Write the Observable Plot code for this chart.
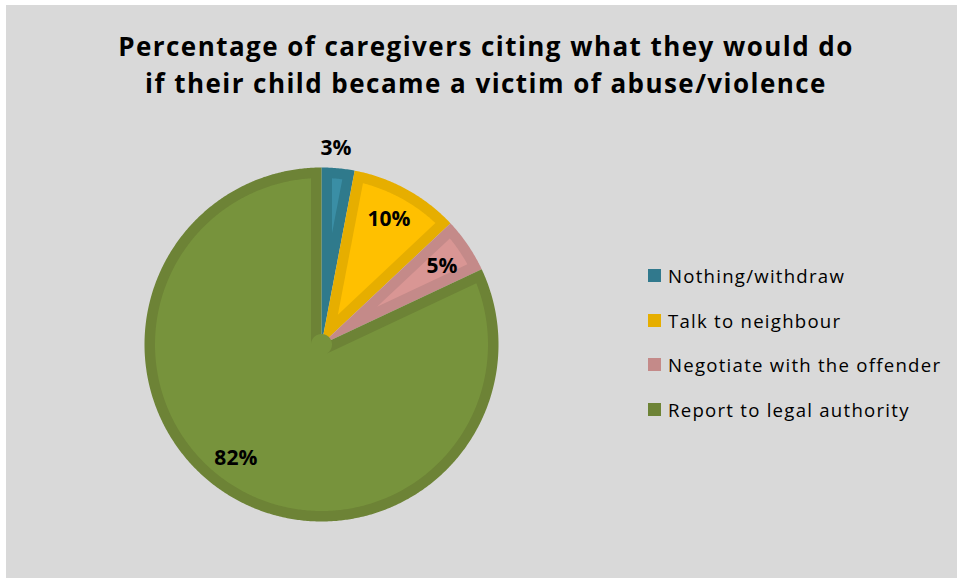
<!DOCTYPE html>
<html>
<head>
<meta charset="utf-8">
<script src="https://cdn.jsdelivr.net/npm/d3@7"></script>
<script src="https://cdn.jsdelivr.net/npm/@observablehq/plot@0.6"></script>
<style>
  html, body { margin: 0; padding: 0; background: #ffffff; }
  #wrap { position: relative; width: 957px; height: 578px; overflow: hidden; font-family: "Open Sans", sans-serif; }
  #bg { position: absolute; left: 6px; top: 5px; width: 951px; height: 573px; background: #d9d9d9; }
  #title { position: absolute; left: 0; width: 972px; top: 27.5px; text-align: center; font-weight: 700; font-size: 26px; line-height: 37px; color: #000; letter-spacing: 1.45px; white-space: nowrap; }
  #chart { position: absolute; left: 0; top: 0; }
  #legend { position: absolute; left: 648px; top: 253px; }
  .item { display: flex; align-items: center; height: 44.7px; font-size: 18.6px; letter-spacing: 1.25px; color: #000; white-space: nowrap; }
  .sw { width: 13px; height: 13px; margin-right: 7px; flex: none; }
</style>
</head>
<body>
<div id="wrap">
  <div id="bg"></div>
  <div id="title">Percentage of caregivers citing what they would do<br>if their child became a victim of abuse/violence</div>
  <div id="chart"></div>
  <div id="legend"></div>
</div>
<script>
// ---- data ----
const categories = ["Nothing/withdraw", "Talk to neighbour", "Negotiate with the offender", "Report to legal authority"];
const values = [3, 10, 5, 82];
const valueLabels = ["3%", "10%", "5%", "82%"];

// ---- styles / layout ----
const innerColors = ["#3a8ea5", "#ffc000", "#d99694", "#77933c"];
const edgeColors  = ["#2f7a8c", "#e6ae00", "#c48a89", "#6d8336"];
const legendColors = ["#31798d", "#e6ae00", "#c48a89", "#6d8336"];
const labelRadius = [1.109, 0.806, 0.813, 0.806];
const labelNudgeDeg = [-1.2, -0.6, 1.1, 4.5];

const W = 957, H = 578;
const cx = 321, cy = 344, R = 177;   // pie placement in pixels (scale ranges)
const inset = 10.5 / R;              // inner border width in data units

const arcs = d3.pie().sort(null).startAngle(0).endAngle(2 * Math.PI)(values);

const pt = (rho, th, key) => ({x: rho * Math.sin(th), y: rho * Math.cos(th), key});
function arcPts(rho, t0, t1, key) {
  const n = Math.max(2, Math.ceil(Math.abs(t1 - t0) / (Math.PI / 360)));
  return d3.range(n + 1).map(i => pt(rho, t0 + (t1 - t0) * i / n, key));
}

const outer = [], inner = [];
arcs.forEach((a, i) => {
  const k = categories[i];
  outer.push([pt(0, 0, k), ...arcPts(1, a.startAngle, a.endAngle, k)]);
  const Rp = 1 - inset;
  const da = Math.asin(inset / Rp);
  const t0 = a.startAngle + da, t1 = a.endAngle - da;
  const h = (a.endAngle - a.startAngle) / 2;
  let poly;
  if (h < Math.PI / 2) {
    const mid = (a.startAngle + a.endAngle) / 2;
    poly = [pt(inset / Math.sin(h), mid, k), ...arcPts(Rp, t0, t1, k)];
  } else {
    poly = [...arcPts(inset, a.endAngle - Math.PI / 2, a.startAngle + Math.PI / 2 + 2 * Math.PI, k),
            ...arcPts(Rp, t0, t1, k)];
  }
  inner.push(poly);
});

const labelData = arcs.map((a, i) => {
  const mid = (a.startAngle + a.endAngle) / 2 + labelNudgeDeg[i] * Math.PI / 180;
  return {...pt(labelRadius[i], mid, categories[i]), text: valueLabels[i]};
});

const marks = [];
arcs.forEach((a, i) => {
  marks.push(Plot.line(outer[i], {x: "x", y: "y", curve: "linear-closed", fill: edgeColors[i], stroke: "none"}));
  marks.push(Plot.line(inner[i], {x: "x", y: "y", curve: "linear-closed", fill: innerColors[i], stroke: "none"}));
});
marks.push(Plot.text(labelData, {x: "x", y: "y", text: "text", fontWeight: "bold", fontSize: 21, fill: "#000"}));

const chart = Plot.plot({
  width: W, height: H,
  margin: 0,
  style: {background: "transparent", fontFamily: "'Open Sans', sans-serif", overflow: "visible"},
  x: {domain: [-1, 1], range: [cx - R, cx + R], axis: null},
  y: {domain: [-1, 1], range: [cy + R, cy - R], axis: null},
  marks
});
document.getElementById("chart").appendChild(chart);

const leg = document.getElementById("legend");
categories.forEach((c, i) => {
  const it = document.createElement("div");
  it.className = "item";
  const sw = document.createElement("span");
  sw.className = "sw";
  sw.style.background = legendColors[i];
  const tx = document.createElement("span");
  tx.textContent = c;
  it.appendChild(sw); it.appendChild(tx);
  leg.appendChild(it);
});
</script>
</body>
</html>
